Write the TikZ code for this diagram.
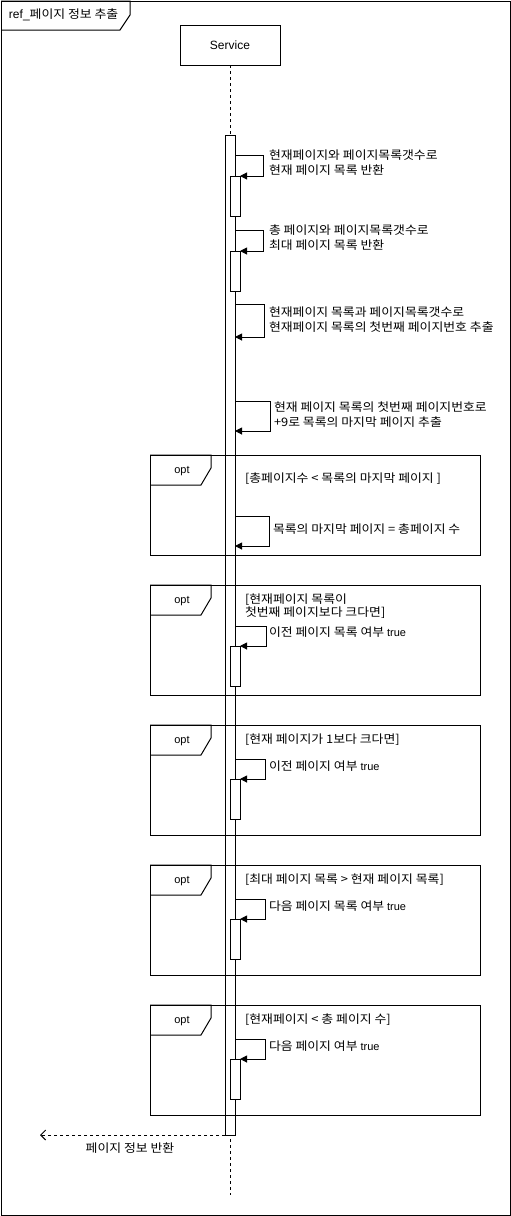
\documentclass[tikz,border=0pt]{standalone}
\usepackage{fontspec}
\setmainfont{Noto Sans CJK KR}[FakeStretch=1.1]
\newfontfamily\lat{Liberation Sans}
\newcommand\truetxt{{\lat\fontsize{11}{15}\selectfont true}}
\usetikzlibrary{arrows.meta}

\begin{document}
\begin{tikzpicture}[x=1pt, y=-1pt, line width=1pt,
  every node/.style={inner sep=0pt, outer sep=0pt, text=black,
    font=\fontsize{11.7}{15}\selectfont},
  lbl/.style={anchor=west, align=left},
  box/.style={draw, anchor=north west},
  bar/.style={draw, fill=white, minimum width=10pt, anchor=north},
  frame/.style={draw, anchor=north west, minimum width=330pt},
  msg/.style={draw, -{Triangle[length=7pt,width=7pt]}},
  ret/.style={draw, dash pattern=on 3pt off 3pt, -{Straight Barb[length=5pt,width=10pt]}},
  life/.style={draw, dash pattern=on 3pt off 3pt},
]
\useasboundingbox (0,0) rectangle (511,1216);

% outer reference frame
\node[box, minimum width=509pt, minimum height=1214pt] (outer) at (1,1) {};
\draw (outer.north west) -- ++(129,0) -- ++(0,14) -- ++(-10,15) -- ++(-119,0);
\node[lbl] (reftitle) at (9,15) {{\lat\fontsize{12}{14}\selectfont ref\_}페이지 정보 추출};

% participant and lifeline
\node[draw, minimum width=100pt, minimum height=40pt] (svc) at (230,45) {\fontsize{12}{14}\selectfont\lat Service};
\coordinate (lifeEnd) at (230,1195);
\draw[life] (svc.south) -- (lifeEnd);

% main activation
\node[bar, minimum height=1000pt] (act) at (230,135) {};

% combined fragments
\foreach \n/\top/\h in {1/455/100, 2/585/110, 3/725/110, 4/865/110, 5/1005/110}{
  \node[frame, minimum height=\h pt] (f\n) at (150,\top) {};
  \draw (f\n.north west) -- ++(61,0) -- ++(0,13) -- ++(-10,17) -- ++(-51,0);
  \node (opt\n) at ([shift={(32,16)}]f\n.north west) {\lat\fontsize{11}{13}\selectfont opt};
}

% nested activations
\node[bar, minimum height=40pt] (b1) at (235,176) {};
\node[bar, minimum height=40pt] (b2) at (235,251) {};
\node[bar, minimum height=40pt] (b6) at (235,646) {};
\node[bar, minimum height=40pt] (b7) at (235,779) {};
\node[bar, minimum height=40pt] (b8) at (235,919) {};
\node[bar, minimum height=40pt] (b9) at (235,1059) {};

% self messages
\draw[msg] (act.east |- 0,155) -- (263,155) |- (b1.north east);
\node[lbl] (t1) at (269,163) {현재페이지와 페이지목록갯수로\\현재 페이지 목록 반환};

\draw[msg] (act.east |- 0,230) -- (263,230) |- (b2.north east);
\node[lbl] (t2) at (269,238) {총 페이지와 페이지목록갯수로\\최대 페이지 목록 반환};

\draw[msg] (act.east |- 0,304) -- (264,304) |- (act.east |- 0,337);
\node[lbl] (t3) at (269,320) {현재페이지 목록과 페이지목록갯수로\\현재페이지 목록의 첫번째 페이지번호 추출};

\draw[msg] (act.east |- 0,401) -- (270,401) |- (act.east |- 0,431);
\node[lbl] (t4) at (274,415) {현재 페이지 목록의 첫번째 페이지번호로\\+9로 목록의 마지막 페이지 추출};

\node[lbl] (c1) at (245,479) {[총페이지수 < 목록의 마지막 페이지 ]};
\draw[msg] (act.east |- 0,516) -- (269,516) |- (act.east |- 0,546);
\node[lbl] (t5) at (273,529) {목록의 마지막 페이지 = 총페이지 수};

\node[lbl, font=\fontsize{11.7}{13}\selectfont] (c2) at (245,606) {[현재페이지 목록이\\첫번째 페이지보다 크다면]};
\draw[msg] (act.east |- 0,626) -- (266,626) |- (b6.north east);
\node[lbl] (t6) at (269,632) {이전 페이지 목록 여부 \truetxt};

\node[lbl] (c3) at (245,740) {[현재 페이지가 1보다 크다면]};
\draw[msg] (act.east |- 0,759) -- (265,759) |- (b7.north east);
\node[lbl] (t7) at (269,766) {이전 페이지 여부 \truetxt};

\node[lbl] (c4) at (245,880) {[최대 페이지 목록 > 현재 페이지 목록]};
\draw[msg] (act.east |- 0,899) -- (265,899) |- (b8.north east);
\node[lbl] (t8) at (269,906) {다음 페이지 목록 여부 \truetxt};

\node[lbl] (c5) at (245,1020) {[현재페이지 < 총 페이지 수]};
\draw[msg] (act.east |- 0,1039) -- (265,1039) |- (b9.north east);
\node[lbl] (t9) at (269,1046) {다음 페이지 여부 \truetxt};

% reply
\coordinate (caller) at (40,1135);
\draw[ret] (act.south west) -- (caller);
\node (rt) at (130,1148) {페이지 정보 반환};
\end{tikzpicture}
\end{document}
